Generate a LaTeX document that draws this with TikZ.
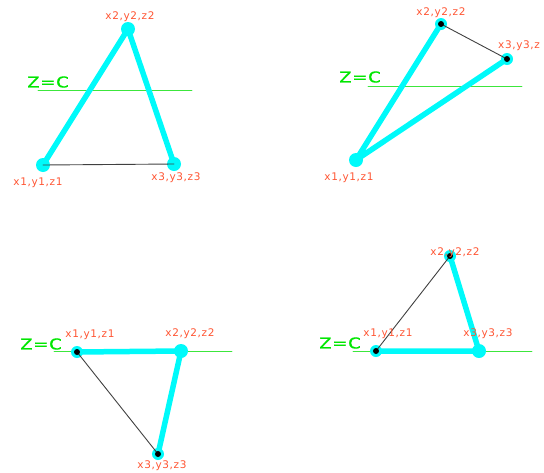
\documentclass[tikz,border=0pt]{standalone}
\usepackage{fontspec}
\setmainfont{DejaVu Sans}
\definecolor{aqua}{RGB}{0,250,250}
\definecolor{tomato}{RGB}{255,85,51}
\definecolor{lime}{RGB}{0,230,0}
\definecolor{levelgreen}{RGB}{60,230,60}
\begin{document}
\begin{tikzpicture}[x=1pt,y=-1pt,line cap=round,line join=round,
  edge/.style={aqua,line width=5.5pt},
  wire/.style={black!75,line width=0.9pt},
  level/.style={levelgreen,line width=0.9pt},
  lab/.style={tomato,font=\fontsize{10.5}{12}\selectfont\addfontfeature{LetterSpace=6},inner sep=0pt},
  zc/.style={lime,font=\fontsize{15}{17}\selectfont\addfontfeature{FakeStretch=1.2,FakeBold=0.6,LetterSpace=5},inner sep=0pt}]
  \useasboundingbox (0,0) rectangle (544,472);
  % top left
  \coordinate (A1) at (43,165);
  \coordinate (B1) at (128,29);
  \coordinate (C1) at (174,164);
  \coordinate (L1) at (38,90);
  \coordinate (R1) at (192,90);
  \draw[level] (L1) -- (R1);
  \draw[edge] (A1) -- (B1) -- (C1);
  \fill[aqua] (A1) circle[radius=7];
  \fill[aqua] (B1) circle[radius=7];
  \fill[aqua] (C1) circle[radius=7];
  \draw[wire] (A1) -- (C1);
  \node[zc] (z1) at (48,82) {Z=C};
  \node[lab] (b1) at (130,17) {x2,y2,z2};
  \node[lab] (a1) at (38,183) {x1,y1,z1};
  \node[lab] (c1) at (176,178) {x3,y3,z3};
  % top right
  \coordinate (A2) at (356,160);
  \coordinate (B2) at (441,24);
  \coordinate (C2) at (507,59);
  \coordinate (L2) at (368,86);
  \coordinate (R2) at (522,86);
  \draw[level] (L2) -- (R2);
  \draw[edge] (B2) -- (A2) -- (C2);
  \fill[aqua] (A2) circle[radius=7];
  \fill[aqua] (B2) circle[radius=6];
  \fill[aqua] (C2) circle[radius=6];
  \draw[wire] (B2) -- (C2);
  \fill[black] (B2) circle[radius=3];
  \fill[black] (C2) circle[radius=3];
  \node[zc] (z2) at (360,77) {Z=C};
  \node[lab] (b2) at (441,13) {x2,y2,z2};
  \node[lab,anchor=west] (c2) at (498,46) {x3,y3,z};
  \node[lab] (a2) at (349,178) {x1,y1,z1};
  % bottom left
  \coordinate (A3) at (77,352);
  \coordinate (B3) at (181,351);
  \coordinate (C3) at (158,454);
  \coordinate (L3) at (54,351);
  \coordinate (R3) at (232,351);
  \draw[level] (L3) -- (R3);
  \draw[edge] (A3) -- (B3) -- (C3);
  \fill[aqua] (A3) circle[radius=6];
  \fill[aqua] (B3) circle[radius=7];
  \fill[aqua] (C3) circle[radius=6];
  \draw[wire] (A3) -- (C3);
  \fill[black] (A3) circle[radius=3];
  \fill[black] (C3) circle[radius=3];
  \node[zc] (z3) at (41,344) {Z=C};
  \node[lab] (a3) at (90,335) {x1,y1,z1};
  \node[lab] (b3) at (190,334) {x2,y2,z2};
  \node[lab] (c3) at (162,466) {x3,y3,z3};
  % bottom right
  \coordinate (A4) at (376,351);
  \coordinate (B4) at (450,256);
  \coordinate (C4) at (479,351);
  \coordinate (L4) at (353,351);
  \coordinate (R4) at (532,351);
  \draw[level] (L4) -- (R4);
  \draw[edge] (A4) -- (C4) -- (B4);
  \fill[aqua] (A4) circle[radius=6];
  \fill[aqua] (B4) circle[radius=6];
  \fill[aqua] (C4) circle[radius=7];
  \draw[wire] (A4) -- (B4);
  \fill[black] (A4) circle[radius=3];
  \fill[black] (B4) circle[radius=3];
  \node[zc] (z4) at (340,343) {Z=C};
  \node[lab] (b4) at (455,253) {x2,y2,z2};
  \node[lab] (a4) at (388,334) {x1,y1,z1};
  \node[lab] (c4) at (488,334) {x3,y3,z3};
\end{tikzpicture}
\end{document}
